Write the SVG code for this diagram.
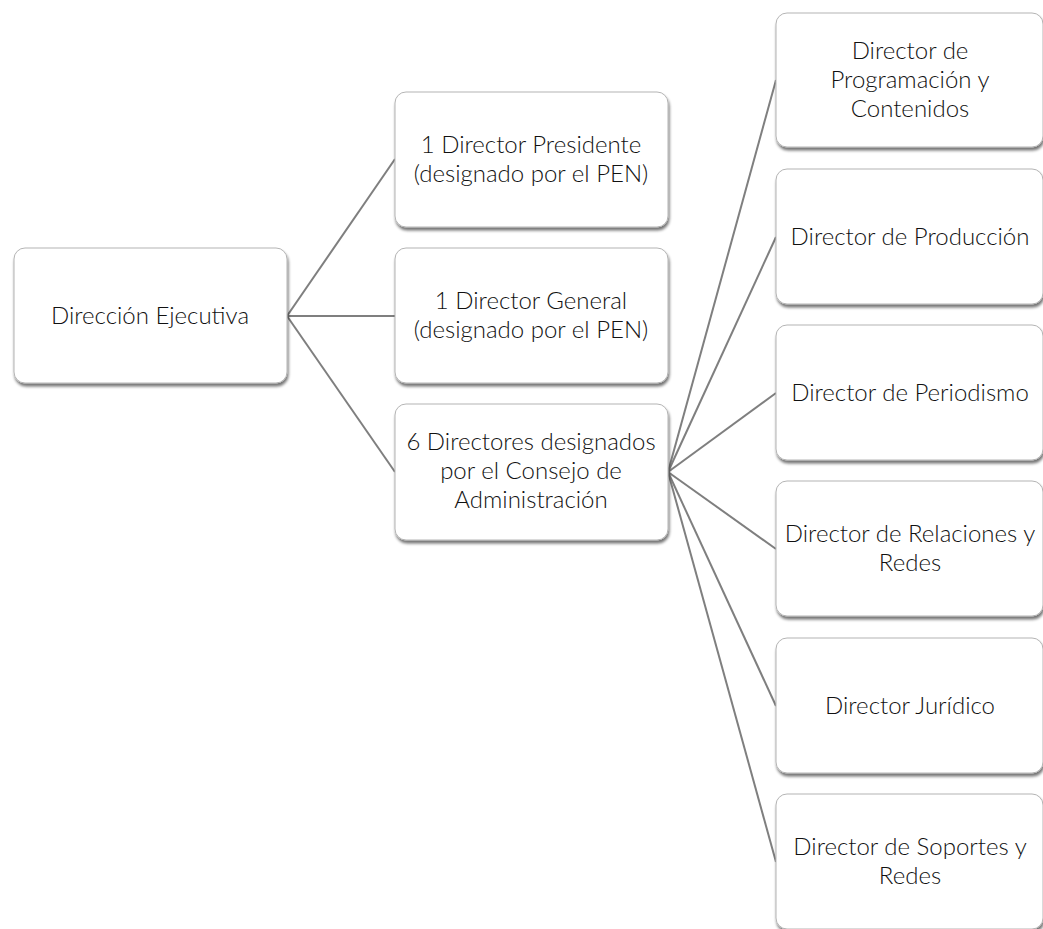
<svg xmlns="http://www.w3.org/2000/svg" width="1043" height="929" viewBox="0 0 1043 929">
<defs>
<filter id="sh" x="-10%" y="-10%" width="125%" height="130%">
<feGaussianBlur in="SourceAlpha" stdDeviation="1.5"/>
<feOffset dx="1" dy="2.5" result="b"/>
<feComponentTransfer><feFuncA type="linear" slope="0.55"/></feComponentTransfer>
<feMerge><feMergeNode/><feMergeNode in="SourceGraphic"/></feMerge>
</filter>
</defs>
<style>
.box{fill:#ffffff;stroke:#b4b4b4;stroke-width:1;filter:url(#sh)}
.t{font-family:Lato,"Open Sans","Liberation Sans",sans-serif;font-weight:300;font-size:24px;fill:#111111;text-anchor:middle}
.c{stroke:#7f7f7f;stroke-width:2;fill:none}
</style>
<rect width="1043" height="929" fill="#ffffff"/>
<g id="connectors">
<line class="c" x1="287" y1="316" x2="395" y2="159"/>
<line class="c" x1="287" y1="316" x2="395" y2="316"/>
<line class="c" x1="287" y1="316" x2="395" y2="472"/>
<line class="c" x1="668" y1="472" x2="776" y2="80"/>
<line class="c" x1="668" y1="472" x2="776" y2="237"/>
<line class="c" x1="668" y1="472" x2="776" y2="393"/>
<line class="c" x1="668" y1="472" x2="776" y2="549"/>
<line class="c" x1="668" y1="472" x2="776" y2="706"/>
<line class="c" x1="668" y1="472" x2="776" y2="862"/>
</g>
<g id="n-direccion">
<rect class="box" x="14" y="248" width="273" height="135" rx="11"/>
<text class="t" x="150" y="324">Dirección Ejecutiva</text>
</g>
<g id="n-presidente">
<rect class="box" x="395" y="92" width="273" height="135" rx="11"/>
<text class="t" x="531" y="153">1 Director Presidente</text>
<text class="t" x="531" y="182">(designado por el PEN)</text>
</g>
<g id="n-general">
<rect class="box" x="395" y="248" width="273" height="135" rx="11"/>
<text class="t" x="531" y="309">1 Director General</text>
<text class="t" x="531" y="338">(designado por el PEN)</text>
</g>
<g id="n-seis">
<rect class="box" x="395" y="404" width="273" height="136" rx="11"/>
<text class="t" x="531" y="450">6 Directores designados</text>
<text class="t" x="531" y="479">por el Consejo de</text>
<text class="t" x="531" y="508">Administración</text>
</g>
<g id="n-programacion">
<rect class="box" x="776" y="13" width="267" height="134" rx="11"/>
<text class="t" x="910" y="59">Director de</text>
<text class="t" x="910" y="88">Programación y</text>
<text class="t" x="910" y="117">Contenidos</text>
</g>
<g id="n-produccion">
<rect class="box" x="776" y="169" width="267" height="135" rx="11"/>
<text class="t" x="910" y="245">Director de Producción</text>
</g>
<g id="n-periodismo">
<rect class="box" x="776" y="325" width="267" height="135" rx="11"/>
<text class="t" x="910" y="401">Director de Periodismo</text>
</g>
<g id="n-relaciones">
<rect class="box" x="776" y="481" width="267" height="135" rx="11"/>
<text class="t" x="910" y="542">Director de Relaciones y</text>
<text class="t" x="910" y="571">Redes</text>
</g>
<g id="n-juridico">
<rect class="box" x="776" y="638" width="267" height="135" rx="11"/>
<text class="t" x="910" y="714">Director Jurídico</text>
</g>
<g id="n-soportes">
<rect class="box" x="776" y="794" width="267" height="135" rx="11"/>
<text class="t" x="910" y="855">Director de Soportes y</text>
<text class="t" x="910" y="884">Redes</text>
</g>
</svg>
